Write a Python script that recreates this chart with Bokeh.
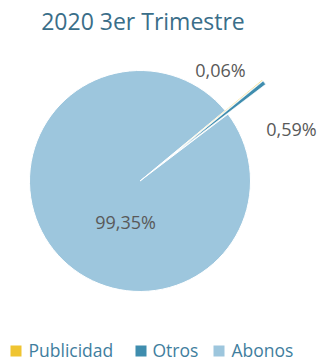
import numpy as np
from bokeh.plotting import figure
from bokeh.models import Range1d, ColumnDataSource
from bokeh.core.properties import value
from bokeh.embed import file_html
from bokeh.resources import INLINE

# ---- data ----
title_text = "2020 3er Trimestre"
categories = ["Publicidad", "Otros", "Abonos"]
values = [0.06, 0.59, 99.35]
colors = ["#EFC431", "#3F8DAE", "#9DC6DD"]

# ---- layout (reference pixel coordinates, y measured from top) ----
W, H = 320, 360
FONT = "Open Sans"
cx, cy, r = 139.5, 180.5, 110.5
first_angle_deg = 39.6           # start of first slice, math angle
explode = [48, 48, 0]
label_pos = [(220, 69.5), (291, 128), (125, 221)]
legend_sq_x = [15.5, 140.5, 218.5]
legend_tx_x = [28, 152, 231]
legend_y = 349

def Y(y):
    return H - y

p = figure(width=W, height=H, output_backend="svg", toolbar_location=None,
           x_range=Range1d(0, W), y_range=Range1d(0, H),
           min_border=0)
p.axis.visible = False
p.grid.visible = False
p.outline_line_color = None
p.background_fill_color = "white"
p.border_fill_color = "white"

vals = np.array(values, dtype=float)
frac = vals / vals.sum()
a0 = np.deg2rad(first_angle_deg)
cum = np.concatenate([[0], np.cumsum(frac)[:-1]])
start = a0 - cum * 2 * np.pi
end = start - frac * 2 * np.pi
mid = (start + end) / 2
xs = cx + np.array(explode) * np.cos(mid)
ys = Y(cy) + np.array(explode) * np.sin(mid)

# draw big slice first, then small slices on top
order = [2, 1, 0]
src = ColumnDataSource(dict(
    x=[xs[i] for i in order], y=[ys[i] for i in order],
    s=[start[i] for i in order], e=[end[i] for i in order],
    c=[colors[i] for i in order],
    lw=[1.0, 0.6, 0.0]))
p.wedge(x="x", y="y", radius=r, start_angle="s", end_angle="e",
        direction="clock", fill_color="c", line_color="white",
        line_width="lw", source=src)

# data labels
labels = [f"{v:.2f}".replace(".", ",") + "%" for v in values]
p.text(x=[lp[0] for lp in label_pos], y=[Y(lp[1]) for lp in label_pos],
       text=labels, text_font=value(FONT), text_font_size="18px",
       text_color="#595959", text_align="center", text_baseline="middle")

# title
p.text(x=[142.5], y=[Y(20)], text=[title_text], text_font=value(FONT),
       text_font_size="23px", text_color="#3A6E89", text_align="center",
       text_baseline="middle")

# legend
p.rect(x=legend_sq_x, y=[Y(legend_y + 1.5)] * 3, width=11, height=11,
       fill_color=colors, line_color=None)
p.text(x=legend_tx_x, y=[Y(legend_y)] * 3, text=categories,
       text_font=value(FONT), text_font_size="17.5px", text_color="#3F7E9E",
       text_align="left", text_baseline="middle")

open("out.html", "w").write(file_html(p, INLINE))
